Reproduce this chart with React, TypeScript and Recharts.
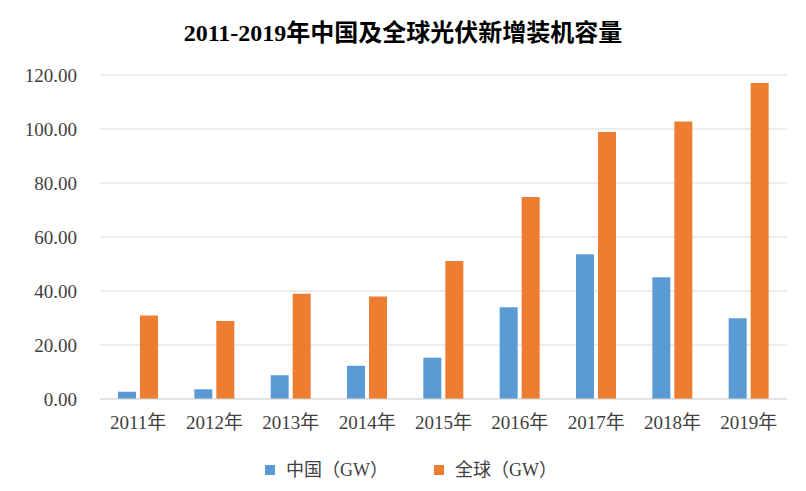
import React from 'react';
import { Bar, BarChart, CartesianGrid, XAxis, YAxis } from 'recharts';

const years = ['2011年', '2012年', '2013年', '2014年', '2015年', '2016年', '2017年', '2018年', '2019年'];
const china = [2.7, 3.6, 8.8, 12.3, 15.3, 34.0, 53.6, 45.1, 29.9];
const world = [30.9, 28.9, 39.0, 38.0, 51.1, 74.8, 98.9, 102.8, 117.0];
const yTicks = [0, 20, 40, 60, 80, 100, 120];
const seriesNames = ['中国（GW）', '全球（GW）'];

const chinaColor = '#5B9BD5';
const worldColor = '#ED7D31';
const font = "'Liberation Serif', 'Noto Sans CJK SC', serif";

const data = years.map((year, i) => ({ year, china: china[i], world: world[i] }));

export default function App() {
	return (
		<div style={{ position: 'relative', width: 806, height: 491, background: '#fff', fontFamily: font }}>
			<style>{'body { margin: 0; }'}</style>
			<div
				style={{
					position: 'absolute',
					top: 18,
					left: 0,
					width: 806,
					textAlign: 'center',
					fontSize: 24,
					fontWeight: 'bold',
					color: '#000',
					lineHeight: '30px',
				}}
			>
				2011-2019年中国及全球光伏新增装机容量
			</div>
			<BarChart
				width={806}
				height={491}
				data={data}
				margin={{ top: 75, right: 19, left: 0, bottom: 62 }}
				barSize={18}
				barGap={4}
			>
				<CartesianGrid stroke="#D9D9D9" vertical={false} />
				<XAxis
					dataKey="year"
					height={30}
					axisLine={{ stroke: '#D9D9D9' }}
					tickLine={false}
					tickMargin={11}
					tick={{ fontSize: 19, fill: '#404040', fontFamily: font }}
					interval={0}
				/>
				<YAxis
					width={100}
					domain={[0, 120]}
					ticks={yTicks}
					axisLine={false}
					tickLine={false}
					tickMargin={17}
					tick={{ fontSize: 19, fill: '#404040', fontFamily: font }}
					tickFormatter={(v) => Number(v).toFixed(2)}
				/>
				<Bar dataKey="china" name={seriesNames[0]} fill={chinaColor} isAnimationActive={false} />
				<Bar dataKey="world" name={seriesNames[1]} fill={worldColor} isAnimationActive={false} />
			</BarChart>
			<div
				style={{
					position: 'absolute',
					top: 458,
					left: 8,
					width: 806,
					display: 'flex',
					justifyContent: 'center',
					alignItems: 'center',
					gap: 46,
					fontSize: 18,
					color: '#404040',
					lineHeight: '24px',
				}}
			>
				{seriesNames.map((name, i) => (
					<div key={name} style={{ display: 'flex', alignItems: 'center', gap: 11 }}>
						<span style={{ width: 10, height: 10, background: i === 0 ? chinaColor : worldColor, display: 'inline-block' }} />
						<span>{name}</span>
					</div>
				))}
			</div>
		</div>
	);
}
